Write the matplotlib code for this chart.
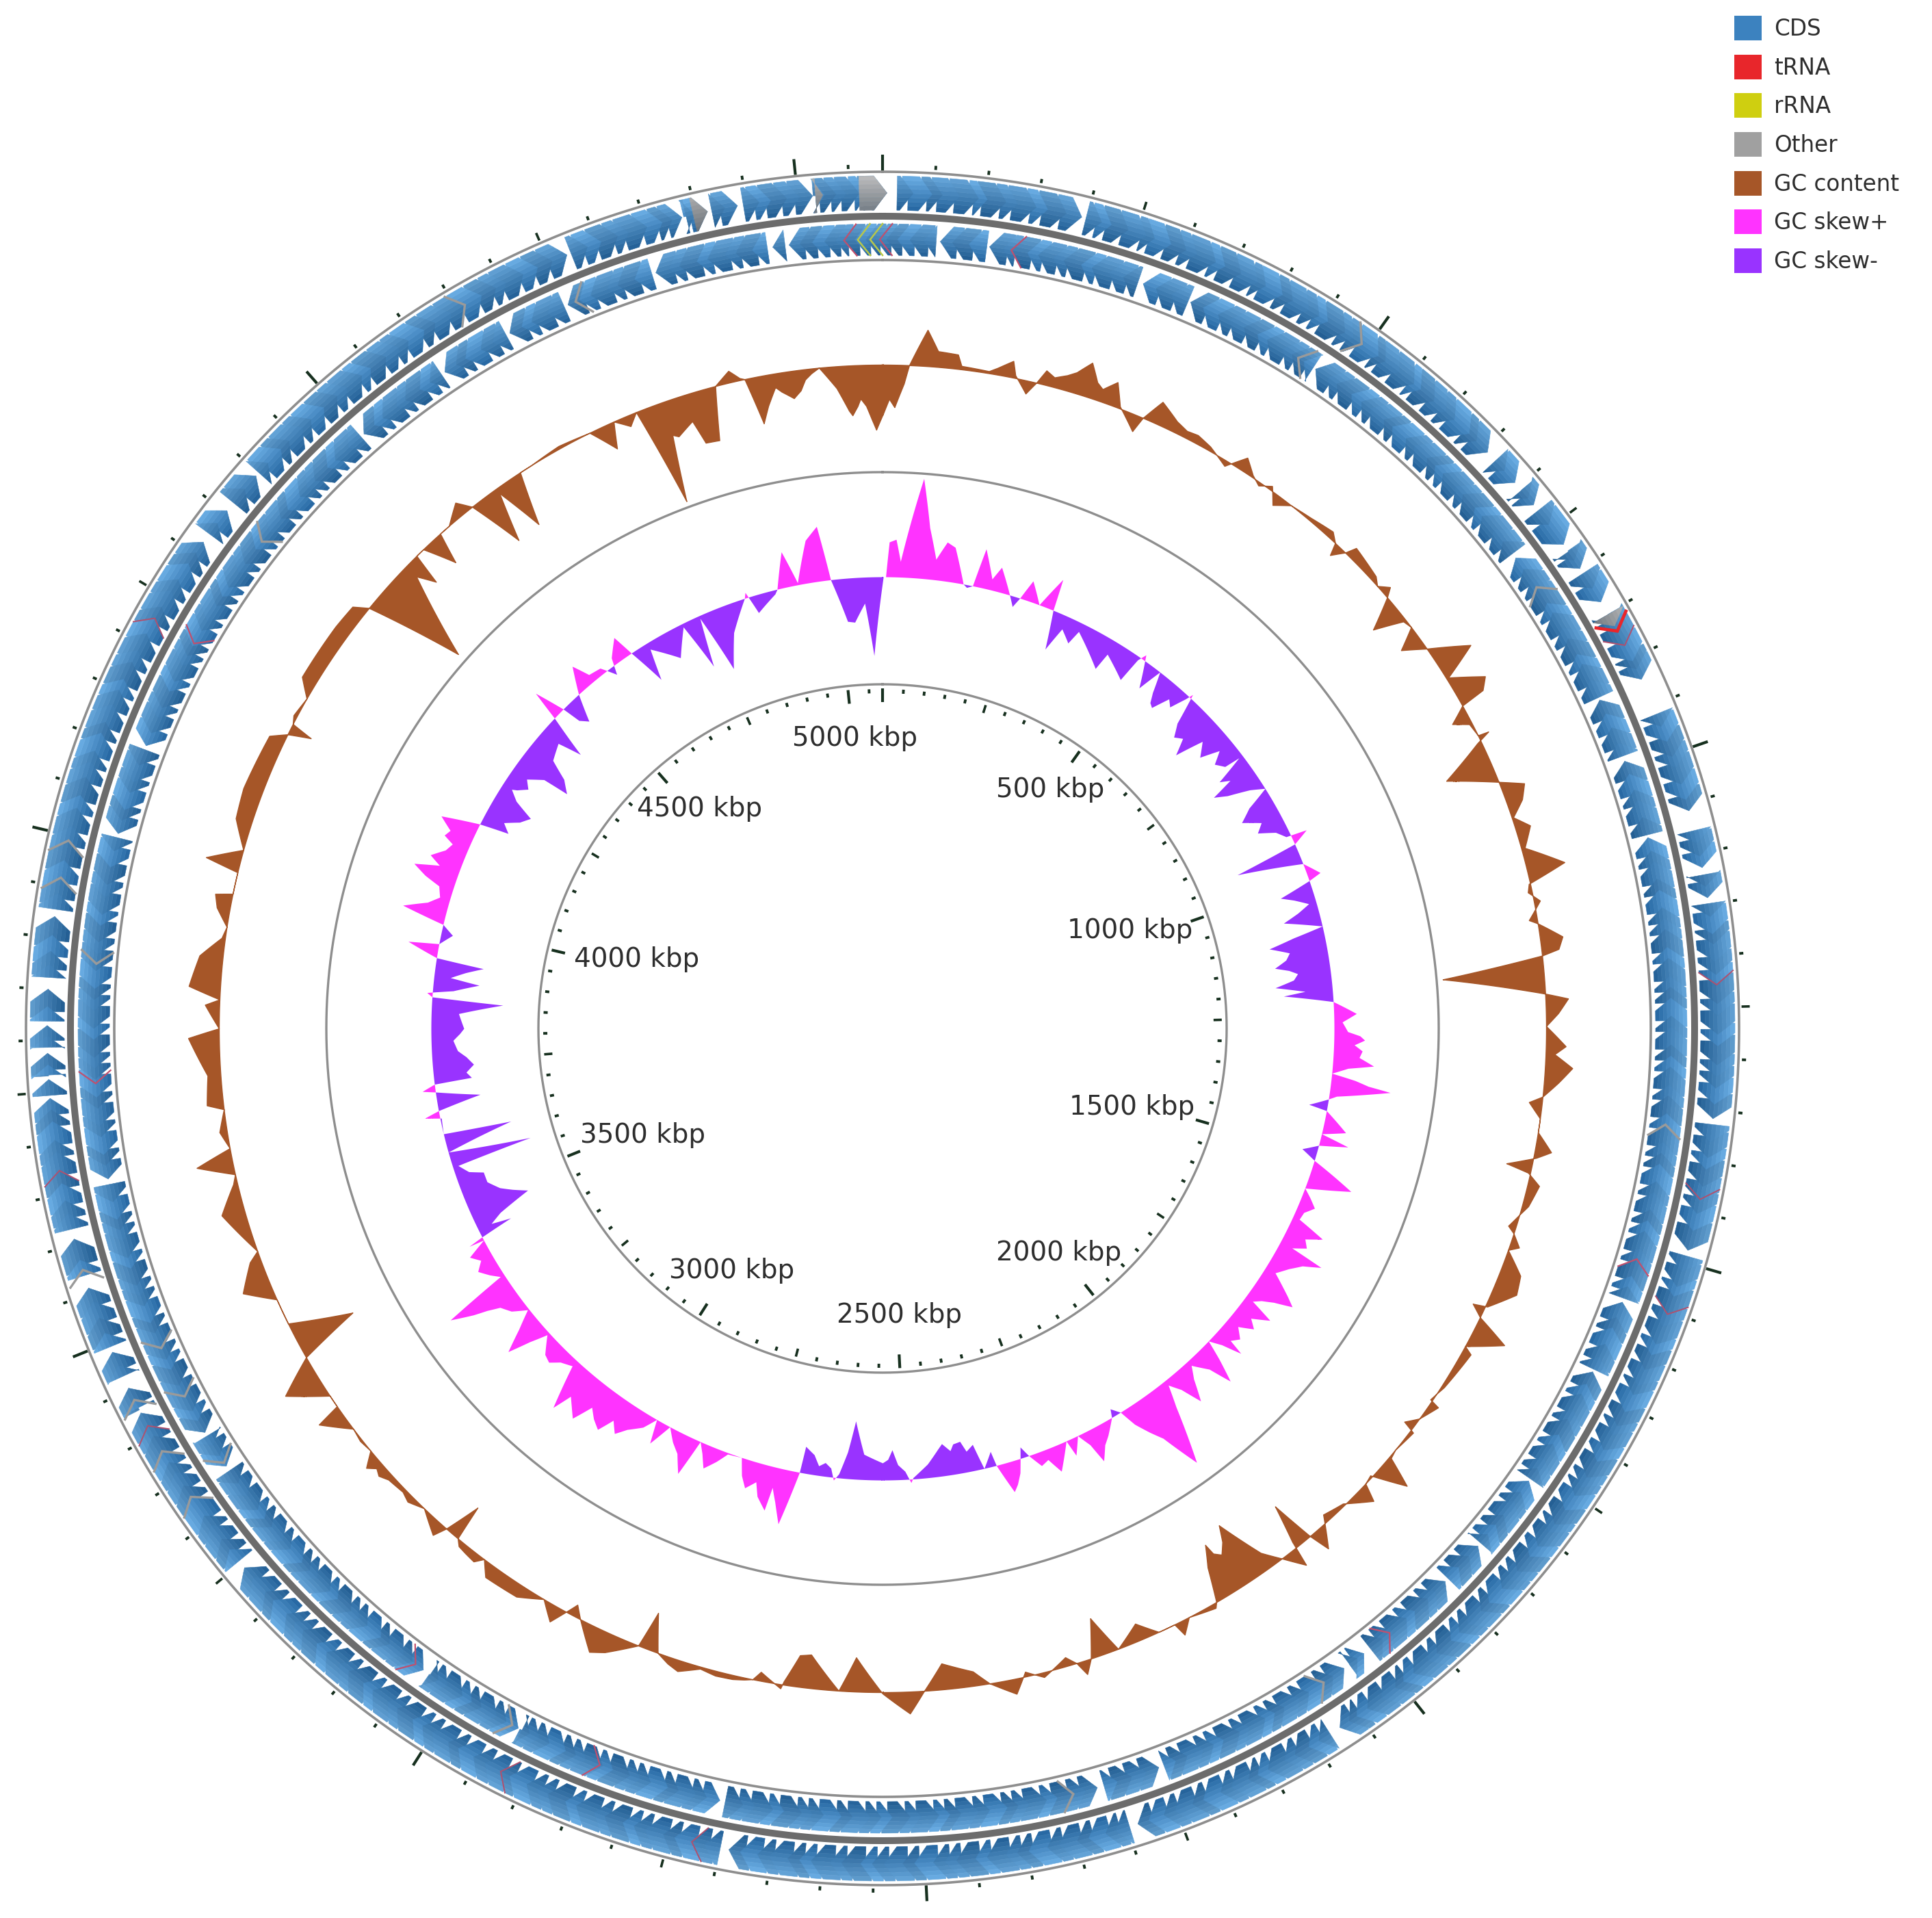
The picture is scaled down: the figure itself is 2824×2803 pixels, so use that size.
import numpy as np
import matplotlib
matplotlib.use("Agg")
import matplotlib.pyplot as plt
from matplotlib.collections import PolyCollection
from matplotlib.patches import Patch

genome_kbp = 5082.3
label_kbp = [500, 1000, 1500, 2000, 2500, 3000, 3500, 4000, 4500, 5000]

# GC content, ring angle in degrees clockwise from the top, deviation from baseline
gc_angle = [0.6, 1.1, 1.9, 2.3, 3.7, 4.7, 6.4, 6.8, 9.2, 9.9, 11.1, 11.5, 12.7, 13.4, 14.0, 15.8, 17.5, 18.4, 20, 20.9,
            22.7, 23.1, 24.1, 25.9, 29.4, 31.3, 32.6, 33.8, 34.7, 35.7, 36.7, 38, 42.2, 43, 43.4, 44.2, 44.6, 47.5, 48.2, 49,
            49.5, 50.9, 52, 52.8, 53.9, 55.1, 56.9, 58.2, 59.7, 60.6, 60.9, 61.9, 62.6, 63.8, 63.9, 64.4, 66.3, 68.2, 69.1, 70.3,
            71.5, 72.6, 74.3, 76.3, 77.4, 78.1, 79, 80.5, 80.9, 82.3, 83.3, 83.7, 85, 87, 87.5, 88.7, 89.8,
            91.5, 92.2, 93.3, 94.6, 95.9, 96.5, 97.2, 97.8, 99, 100.5, 101.2, 102.2, 102.6, 103.5, 105.4, 106.3, 107.5, 108, 109,
            109.5, 111.2, 112.8, 114.7, 115, 115.8, 117, 118.6, 119, 122.6, 123.4, 124.1, 124.3, 126, 127, 127.3, 129.4, 130.2, 131.1, 132.5,
            133.3, 133.9, 135.9, 137.8, 139.4, 139.9, 140.6, 141.4, 141.7, 143, 144.2, 145.9, 147.8, 148, 149.8, 150.1, 152.5, 153.5, 153.9, 155.4,
            157, 159.2, 160.6, 161.7, 162.4, 163, 163.8, 166, 167.5, 168.6, 170.7, 172, 174.7, 176.4, 177.7, 180,
            182.4, 183.8, 186.5, 187.5, 188.6, 188.8, 190.7, 191.3, 195.9, 197.7, 199.8, 201, 201.6, 205.2, 207.1, 207.9, 209.3, 210.7, 212.8, 215.9,
            216.9, 219.8, 220.2, 221.1, 221.6, 223.7, 225.1, 227.6, 229.6, 230.5, 232.9, 234.9, 235.3, 236.4, 238.4, 240.3, 241.8, 243.6, 245.9, 247.5,
            249.7, 250.4, 254.2, 256.5, 257.3, 258.5, 259.6, 261.1, 263, 263.5, 266, 269.2, 270, 272, 272.5, 273.5, 276.1, 277.8, 278.8, 280.3,
            281.4, 281.7, 283.6, 284.2, 285.6, 288, 290.6, 293.5, 295.5, 296.3, 296.9, 297.3, 298, 299.8, 301.2, 304.3, 306.3, 308.5, 309.3, 311.4,
            314.1, 315, 315.4, 316.2, 317.5, 318.2, 319.2, 320.9, 321.8, 323.3, 324.4, 325.7, 326.9, 328, 330.9, 333.8, 335.4, 336.1, 337.3, 338.2,
            339.6, 340.5, 342.6, 343.2, 344.5, 345.4, 346.8, 347.6, 348, 348.9, 350.5, 352, 353.8, 354.5, 355.9, 356.9, 357.2, 358, 359.4]
gc_value = [-50, -62, -27, 0, 53, 23, 21, 5, 3, 10, 24, 4, -19, 0, 21, 22, 50, 25, 35, 3,
            -24, 0, 33, 16, 6, -8, 20, 3, -5, 6, -16, 0, 10, 0, -18, 0, 16, 8, 0, 13,
            0, -46, -4, 0, -32, 0, 56, 3, 50, 37, 0, -26, -4, 0, 16, -6, -70, 0, 34, 23,
            2, 22, 5, 56, -2, -6, 9, -12, 0, 33, 25, 0, -148, 0, 33, 18, 0,
            29, 13, 40, 21, 0, -19, -9, 0, 0, 24, 4, -37, -3, 17, 9, 0, -11, 0, 14,
            0, 30, 35, 3, -18, 0, 50, 0, 13, 4, 0, -3, 13, 0, -15, 5, 0, 3, 47, -3,
            0, 26, -3, -11, 31, 0, -66, -10, 29, 0, -25, -93, -63, -80, 0, 7, 0, 20, 0, 0,
            -25, 0, -56, 0, 20, 0, -13, 7, -7, 22, 0, -21, -38, 0, 32, 2,
            -50, 0, -49, -46, -5, 6, -13, 0, 3, 16, 0, -55, 0, 37, 0, -17, 24, 0, 18, 20,
            0, 0, -53, 0, 20, 0, 10, 8, 21, 0, 0, 37, 0, 0, 55, 0, -91, 0, 0, 42,
            16, 0, 34, 6, 0, 53, 0, 11, 0, 24, 19, 45, 0, 21, 0, 46, 34, 5, 0, 19,
            25, 0, 0, 50, 0, 24, 28, 25, 23, 0, -33, 0, 5, 0, 22, 22, 22, 20, 0, -143,
            -21, -47, 0, 0, -46, 0, 0, 20, 0, -80, -8, -78, 0, 0, 4, 0, -38, 0, -16, 0,
            -148, -50, -40, -76, -78, 0, 17, 3, 0, -69, -20, -40, -7, 0, -32, -66, -73, -49, -95]

# smaller notches of the GC outline, read in a second pass
gc_fine_angle = [14.8, 16.5, 19, 27, 28, 40, 146.5, 147.2, 148.9, 192, 193, 194.5, 198.7, 204, 217.5, 218.5, 219.3, 226, 228.4, 229,
                 231.7, 341, 349.6, 351, 352.7, 353.2, 357.7, 358.5, 359, 0.1]
gc_fine_value = [14, 30, 18, 10, 12, 4, -70, -55, -50, 3, 6, 7, 10, 28, 12, 10, 8, 5, 15, 10,
                 3, -55, -45, -28, -30, -15, -60, -60, -80, -70]

# GC skew on the same ring angle
skew_angle = [0.1, 0.4, 0.8, 1.6, 2.2, 4.3, 5.4, 6.5, 7.6, 8.6, 10.3, 10.8, 11.5, 12.2, 13.7, 14.5, 16, 17.1, 17.7, 18.6,
              20.3, 21.9, 22.2, 23.2, 24.2, 25.7, 26.3, 30.6, 31, 34.3, 34.7, 35.2, 37, 37.9, 40, 42.6, 42.9, 47, 48.1, 52.6,
              52.8, 55.1, 57.9, 60.2, 64.6, 64.9, 65.9, 66.6, 68.6, 70.4, 70.9, 71.9, 73.7, 75.3, 76.9, 78.4, 81.3, 82.5, 84.1, 85.4, 86.6, 88.2, 89.2,
              91.4, 94.4, 94.9, 95.7, 97.2, 98.5, 99, 100.1, 100.5, 102.7, 103.5, 104.3, 105, 106, 107, 109.2, 110.7, 112.6, 114.6, 115.6, 118.2,
              118.6, 121.9, 124.2, 126.4, 127, 131.9, 132.2, 133.8, 135.4, 137.5, 139.5, 141.3, 144.1, 145.6, 147.5, 148.2, 149.1, 149.5, 152.9, 154.4,
              155.6, 156, 158, 161.1, 161.8, 164.1, 165.4, 165.7, 167, 167.8, 170.4, 171.9, 174.1, 176.1, 176.4, 177.1, 178.7, 180,
              182.5, 183.9, 184.7, 185.6, 186.2, 186.7, 189.1, 190.4, 190.6, 191.9, 193.5, 193.8, 195.6, 196.7, 198.2, 200, 202.2, 203.8, 204.7, 208.1,
              209.3, 210, 215.4, 218.5, 221, 222.6, 226, 227.6, 229.2, 231.6, 233.9, 236, 237, 239, 242.05, 242.2, 242.5, 243, 243.5, 245.5,
              247.4, 250.2, 250.9, 252.1, 252.8, 254.1, 256, 256.5, 258.5, 258.9, 259.5, 260.7, 261.9, 262.2, 262.9, 263.2, 266.1, 268.4, 270,
              273.5, 274, 274.5, 276.1, 276.7, 278.5, 279, 280.4, 280.8, 282.2, 283.3, 284.4, 287.8, 289.4, 291, 293.2, 293.8, 295.7, 296.9, 297.5,
              300.8, 303.1, 306.3, 306.6, 308, 309.1, 311.3, 312.2, 313.4, 314, 315, 315.4, 316.3, 317.7, 319.4, 320.3, 321.9, 323.1, 323.8, 325.5,
              326.2, 327.6, 328.5, 331.4, 333.6, 335, 336, 337.5, 339.4, 342.2, 342.5, 343.4, 346.1, 346.5, 348, 349.2, 351, 352.5, 353.4,
              355.1, 356.1, 357.6, 358.7]
skew_value = [0, 0, 51, 55, 23, 146, 75, 30, 57, 51, 0, -4, 0, 57, 16, 36, 7, -15, 0, 30,
              0, 47, 0, -57, -20, -35, -13, -49, -22, -43, -5, 8, -37, 0, -48, -6, 6, -74, -32, -30,
              -6, -70, 0, -55, -7, 24, 0, -95, 0, 19, 0, -48, -11, -54, 0, -83, -80, -48, -83, -72, 0, 33, 12,
              45, 60, 23, 0, 88, 11, 0, -27, 0, 34, 0, 42, 0, -22, 0, 65, 0, 24, 10, 53, 19,
              70, 16, 64, 12, 49, 23, 47, 0, 64, 8, 56, 8, 123, 66, 26, 0, -12, 0, 50, 0,
              25, 0, 38, 0, -16, 44, 0, -22, 0, -38, -44, -47, -20, -2, 5, -12, -44, -25,
              -37, -85, -39, -6, 4, -13, -29, -39, 0, 80, 30, 65, 28, 41, 0, 2, 34, 0, 56, 0,
              35, 0, 59, 68, 74, 10, 26, 4, 63, 2, 32, 102, 6, 30, 0, 23, 0, -50, -21, -90,
              -54, -40, -20, -8, -121, 0, -100, 0, -2, 22, 0, -64, 0, 19, 0, -55, -50, -32, -48,
              -104, 0, 8, -67, -24, -70, 0, 45, 0, -17, 0, 64, 21, 66, 48, 24, 40, 56, 0, -43,
              -61, -22, -46, -85, -69, -39, -29, -64, 0, 45, 0, -28, -39, 0, 37, 12, 9, -13, 11, 33,
              0, -56, -10, -43, -5, -76, -4, -91, -42, 0, 8, -26, -6, 0, 52, 3, 62, 80, 0,
              -63, -65, -38, -115]

skew_fine_angle = [38.8, 39.4, 41, 41.8, 44, 45, 46, 49.5, 50.5, 51.5, 53.8, 54.5, 56, 57, 59, 61.5, 62.5, 63.5,
                   72.7, 74.5, 77.6, 79.5, 80.4, 81.9, 83.3, 85, 90.4, 90.9, 92, 92.7, 93.5, 96.3, 96.8,
                   111.6, 113.6, 116.5, 117.4, 119.5, 120.6, 122.8, 123.5, 125, 125.7, 128.2, 129, 130, 131, 133, 134.5, 136.2,
                   138.4, 140.4, 142.2, 143, 146.5, 151, 151.9, 153.5, 159, 160, 162.8, 163.5,
                   168.8, 169.4, 170.9, 172.5, 173.3, 175, 178, 179.3, 187.5, 188.3, 192.8, 195, 197.5, 201, 203, 205.8, 206.9,
                   211, 212.5, 213.5, 214.5, 216.5, 217.5, 219.5, 220.3, 224, 225, 228.4, 230.4, 232.7, 234.5, 235, 237.9, 240, 241,
                   244.3, 246.5, 248.8, 264, 265, 267, 269.3, 272, 275, 277.6, 285.5, 286.5, 288.5, 290.2, 292.2, 294.6,
                   298.5, 299.6, 301.8, 302.8, 304, 305]
skew_fine_value = [-30, -44, -22, -30, -40, -58, -50, -50, -22, -40, -50, -36, -52, -20, -35, -30, -42, -18,
                   -30, -30, -45, -55, -62, -60, -55, -40, 20, 38, 30, 42, 38, 35, 55,
                   12, 12, 30, 38, 45, 30, 35, 50, 38, 22, 25, 38, 18, 32, 18, 30, 30,
                   25, 25, 40, 75, 48, 20, 30, 20, 15, 20, 20, 35,
                   -30, -46, -35, -40, -30, -12, -22, -30, -20, -14, 50, 48, 25, 18, 15, 30, 18,
                   20, 35, 50, 35, 50, 38, 55, 45, 18, 30, 30, 30, 22, 50, 70, 18, 18, 30,
                   -40, -70, -40, -48, -60, -38, -42, -40, -30, -45, 30, 15, 45, 30, 30, 35,
                   -30, -50, -30, -15, -35, -25]

# CDS blocks and the gene boundaries inside them, outer ring
plus_start = [1.0, 14.1, 47.2, 49.9, 51.7, 55.2, 57, 60.3, 67.9, 76.3, 79.4, 81.4, 96.6, 105.8, 147.6, 162.8, 191.2, 230.4,
              243, 245.4, 247.6, 252.8, 256.1, 265.4, 266.8, 268.7, 270.5, 273.5, 278.2, 306.3, 309, 311.7, 338.1, 346.4, 348.2, 350.4, 355.4]
plus_end = [13.8, 46.4, 49.2, 51.2, 54.6, 56.6, 59.3, 65.3, 74.9, 78.9, 81, 96.2, 105.4, 146.8, 162.2, 190.6, 229.8, 242.6,
            244.5, 247.2, 251.9, 255.4, 265.2, 266.5, 268.3, 270.2, 272.7, 277.7, 305.6, 308.3, 311.4, 337.8, 346.1, 347.9, 350, 355.2, 360.3]
plus_bounds = [2.1, 3.4, 4.1, 5.3, 6.6, 7.2, 8.5, 9.3, 10.6, 11.4, 12.7, 15.2, 15.9, 17.1, 18.4, 19, 20.2, 21.3, 22.1, 23.5, 24.2, 25.4,
               26.7, 27.3, 28.6, 29.4, 30.7, 31.5, 32.2, 33.6, 34.3, 35.1, 36.4, 37, 38.2, 39.5, 40.1, 41.3, 42.4, 43.2, 44.6, 45.3, 48.1, 50.6,
               52.9, 55.9, 58.2, 61, 61.6, 62.7, 63.9, 64.5, 68.8, 69.9, 71, 71.8, 73, 74.1, 77.2, 78.1, 80.2, 82.3, 83.5, 84.2, 85.4, 86.3, 87,
               88.3, 89.1, 90.4, 91.2, 92.5, 93.3, 94.1, 95.2, 97.8, 98.9, 99.7, 100.9, 102, 102.8, 104, 106.9, 108, 108.7, 110, 110.9, 112.2, 113,
               114.1, 115.3, 116, 117.3, 118.4, 119.1, 120.3, 121.2, 122.5, 123.3, 124, 125.2, 126.4, 127.1, 128.3, 129.2, 130.5, 131.3, 132.1,
               133.4, 134.2, 135.5, 136.3, 137.1, 138.4, 139.2, 140.5, 141.4, 142.1, 143.3, 144.5, 145.4, 146, 148.5, 149.3, 150.4, 151.2, 152.5,
               153.3, 154, 155.3, 156.1, 157.4, 158.2, 159.5, 160.3, 161.4, 163.8, 164.5, 165.7, 166.5, 167.8, 168.6, 169.9, 170.7, 171.5, 172.8,
               173.6, 174.9, 175.7, 176.5, 177.8, 178.6, 179.9, 180.7, 181.5, 182.8, 183.6, 184.9, 185.7, 186.5, 187.8, 188.6, 189.8, 192.3, 193.2,
               194.4, 195.2, 196.5, 197.3, 198.1, 199.4, 200.2, 201.5, 202.3, 203.6, 204.4, 205.2, 206.5, 207.2, 208.4, 209.3, 210.5, 211.3, 212.6,
               213.4, 214.2, 215.5, 216.3, 217.6, 218.4, 219.7, 220.5, 221.7, 222.6, 223.9, 224.7, 225.5, 226.8, 227.6, 228.9, 231.4, 232.3, 233.5,
               234.3, 235.9, 236.8, 237.9, 238.7, 239.6, 240.8, 241.6, 243.6, 246.2, 248.6, 249.7, 250.9, 253.9, 257.2, 258.1, 259.3, 260.2, 261.5,
               262.3, 263.6, 264.4, 267.5, 269.5, 271.5, 274.4, 275.3, 276.4, 279.3, 280.4, 281.6, 283, 284, 285.3, 286.2, 287.5, 288.6, 289.4,
               290.7, 291.5, 292.8, 293.9, 294.7, 296, 296.9, 298.2, 299.4, 300.3, 301.6, 302.5, 303.8, 304.7, 307.2, 310.2, 312.6, 313.9, 314.7,
               316, 316.8, 318, 319.2, 320.1, 321.4, 322.2, 323.5, 324.6, 325.4, 326.7, 327.6, 328.9, 330, 331.3, 332.4, 333.2, 334.5, 335.6, 336.7,
               339.3, 340.3, 341.5, 342.3, 343.6, 344.7, 345.4, 347, 349.1, 351.5, 352.3, 353.4, 354.3, 356, 356.8, 357.5, 358.4, 359, 359.6]

# same for the inner ring, arrows point the other way
minus_start = [4.2, 7.8, 19.3, 23, 33.3, 53.4, 65.4, 70.2, 76, 110.3, 115.8, 125, 131, 134.5, 142.4, 144.2, 159.5, 164.2, 191.9,
               207.5, 215.6, 236.3, 239.2, 259, 284.3, 291, 318.9, 326.3, 331.8, 336.5, 343.3, 352, 353.2]
minus_end = [7.6, 18.9, 22.8, 33.1, 53, 65.2, 69.8, 75.8, 110, 115.6, 124.8, 130.7, 134.2, 141.8, 143.7, 159.1, 163.7, 191.5, 207.2,
             215, 235.9, 238.9, 258.6, 284, 290.7, 318.6, 326, 331.5, 336.2, 343, 351.6, 352.9, 363.9]
minus_bounds = [5.1, 6.3, 8.8, 9.4, 10.6, 11.4, 12.5, 13.3, 14.6, 15.4, 16.7, 17.8, 20.3, 21.5, 24, 25.2, 26.1, 27.3, 28.4, 29.2, 30.5, 31.3, 32.3,
                34.4, 35.2, 36.5, 37.4, 38.2, 39.5, 40.3, 41.6, 42.4, 43.7, 44.5, 45.3, 46.6, 47.4, 48.7, 49.5, 50.8, 51.9, 54.4, 55.3, 56.1, 57.4,
                58.2, 59.5, 60.4, 61.7, 62.5, 63.8, 66.5, 67.6, 68.8, 71.2, 72.4, 73.2, 74.5, 77, 77.8, 79.1, 79.9, 81.2, 82, 82.8, 84.1, 84.9, 86.2,
                87, 87.8, 89.1, 89.9, 91.2, 92, 92.8, 94.1, 94.9, 96.2, 97, 98.3, 99.1, 99.9, 101.2, 102, 103.3, 104.1, 104.9, 106.2, 107, 108.3, 109.1,
                111.5, 112.3, 113.6, 114.6, 116.8, 117.6, 118.9, 119.7, 121, 121.8, 123, 123.9, 126, 126.8, 128.1, 129, 129.9, 132, 133.1, 135.5, 136.3,
                137.6, 138.4, 139.7, 140.7, 143, 145.2, 146, 147.3, 148.1, 149.4, 150.2, 151, 152.3, 153.1, 154.4, 155.2, 156, 157.3, 158.2, 160.5, 161.6,
                162.7, 165.1, 166, 167.2, 168, 169.3, 170.1, 170.9, 172.2, 173, 174.3, 175.1, 175.9, 177.2, 178, 179.3, 180.1, 180.9, 182.2, 183, 184.3,
                185.1, 185.9, 187.2, 188, 189.3, 190.2, 192.9, 193.7, 195, 195.8, 197.1, 197.9, 198.7, 200, 200.8, 202.1, 202.9, 203.7, 205, 205.8, 206.6,
                208.5, 209.3, 210.6, 211.4, 212.2, 213.5, 214.3, 216.6, 217.4, 218.7, 219.5, 220.8, 221.6, 222.4, 223.7, 224.5, 225.8, 226.6, 227.4, 228.7,
                229.5, 230.8, 231.6, 232.4, 233.7, 234.8, 237.2, 238.1, 240.2, 241, 242.3, 243.1, 244.4, 245.2, 246, 247.3, 248.1, 249.4, 250.2, 251, 252.3,
                253.1, 254.4, 255.2, 256, 257.3, 260, 260.8, 262.1, 262.9, 264.2, 265, 266.3, 267.1, 267.9, 269.2, 270, 271.3, 272.1, 272.9, 274.2, 275.4,
                276.3, 277.5, 278.3, 279.6, 280.5, 281.8, 283, 285.3, 286.1, 287.4, 288.2, 289.5, 292, 293.2, 294, 295.3, 296.1, 297.4, 298.2, 299, 300.3,
                301.1, 302.4, 303.2, 304, 305.3, 306.1, 307.4, 308.2, 309, 310.3, 311.1, 312.4, 313.2, 314, 315.3, 316.1, 317.4, 319.9, 320.7, 322, 322.8,
                324.1, 325, 327.3, 328.1, 329.4, 330.4, 332.8, 333.6, 334.9, 337.4, 338.3, 339.6, 340.4, 341.7, 344.3, 345.1, 346.4, 347.2, 348.5, 349.3,
                350.5, 354, 354.9, 355.8, 356.6, 357.2, 358, 358.8, 359.5, 360.3, 361.1, 362, 363]

# solid grey genes and thin coloured genes
plus_other_start = [60.3, 346.9, 358.4, 355.4]
plus_other_end = [61.2, 347.9, 360.3, 355.9]
plus_other_tips = [35, 235.9, 239.6, 243.6, 253.2, 280.4, 283, 330]
plus_trna_tips = [61.6, 62.7, 87, 101.8, 110, 207.2, 193.2, 241.6, 260.2, 299.4]
minus_other_tips = [31.8, 56, 97, 146, 166, 208, 236.6, 242.2, 246.1, 274.7, 308.1, 337.1]
minus_trna_tips = [357.2, 359.8, 9.4, 107, 140, 201, 216.3, 266, 299.2]
minus_rrna_tips = [358.2, 359.1]

# geometry in image pixels
WIDTH, HEIGHT = 2824, 2803
CX, CY = 1290, 1503
R_MAX = 1290
R_OUTER = 1252
R_PLUS = (1196, 1246)
R_MID = 1187
R_MINUS = (1130, 1176)
R_INNER = 1123
R_GC = 970
R_CIRCLE = 813
R_SKEW = 660
R_TICKS = 503
HEAD = 0.9

CDS_LIGHT = np.array([0x66, 0xa6, 0xda]) / 255
CDS_DARK = np.array([0x22, 0x60, 0x98]) / 255
GREY_LIGHT = np.array([0xb4, 0xb4, 0xb4]) / 255
GREY_DARK = np.array([0x70, 0x78, 0x80]) / 255
FACETS = [1.0, 0.95, 1.05, 0.98]
TICK_COLOR = "#17301f"
LINE_COLOR = "#8e8e8e"
TEXT_COLOR = "#2e2e2e"
GC_COLOR = "#a65628"
SKEW_POS = "#ff33ff"
SKEW_NEG = "#9933ff"

plt.rcParams["font.family"] = ["DejaVu Sans"]

fig = plt.figure(figsize=(WIDTH / 100, HEIGHT / 100), dpi=100)
ax = fig.add_axes([(CX - R_MAX) / WIDTH, (HEIGHT - CY - R_MAX) / HEIGHT, 2 * R_MAX / WIDTH, 2 * R_MAX / HEIGHT],
                  projection="polar")
ax.set_theta_zero_location("N")
ax.set_theta_direction(-1)
ax.set_rlim(0, R_MAX)
ax.axis("off")

circle = np.radians(np.linspace(0, 360, 1441))
for r, lw in [(R_OUTER, 2.6), (R_INNER, 2.6), (R_CIRCLE, 2.4), (R_TICKS, 2.4)]:
    ax.plot(circle, np.full_like(circle, r), color=LINE_COLOR, lw=lw, zorder=2)
ax.plot(circle, np.full_like(circle, R_MID), color="#6c6c6c", lw=7.2, zorder=2)


def split_blocks(starts, ends, bounds):
    # each gene is (start, end, has neighbour before, has neighbour after)
    genes = []
    bounds = np.array(bounds)
    for s, e in zip(starts, ends):
        inside = bounds[(bounds > s) & (bounds < e)]
        edges = [s] + list(inside) + [e]
        n = len(edges) - 1
        for i in range(n):
            genes.append((edges[i], edges[i + 1], i > 0, i < n - 1))
    return genes


def arrow_bands(genes, r_range, clockwise, light, dark, bands=8):
    r0, r1 = r_range
    rmid = (r0 + r1) / 2
    half = (r1 - r0) / 2
    verts, colors = [], []
    levels = np.linspace(r0, r1, bands + 1)
    for i, (s, e, before, after) in enumerate(genes):
        head = min(HEAD, (e - s) * 1.4)
        shade = FACETS[i % len(FACETS)]
        for lo, hi in zip(levels[:-1], levels[1:]):
            t_lo, t_hi = abs(lo - rmid) / half, abs(hi - rmid) / half
            # tails slide under the neighbour's head, leaving shallow notches
            k = 0.85 if lo >= rmid else 0.38
            if clockwise:
                tail = s - head * k if before else s
                poly = [(tail, lo), (e - head * t_lo, lo), (e - head * t_hi, hi), (tail, hi)]
            else:
                tail = e + head * k if after else e
                poly = [(tail, lo), (s + head * t_lo, lo), (s + head * t_hi, hi), (tail, hi)]
            verts.append([(np.radians(a), r) for a, r in poly])
            f = ((lo + hi) / 2 - r0) / (r1 - r0)
            colors.append(np.clip((dark + (light - dark) * f) * shade, 0, 1))
    coll = PolyCollection(verts, facecolors=colors, edgecolors=colors, linewidths=0.4,
                          transform=ax.transData, zorder=3)
    ax.add_collection(coll, autolim=False)


arrow_bands(split_blocks(plus_start, plus_end, plus_bounds)[::-1], R_PLUS, True, CDS_LIGHT, CDS_DARK)
arrow_bands(split_blocks(minus_start, minus_end, minus_bounds), R_MINUS, False, CDS_LIGHT, CDS_DARK)
arrow_bands([(s, e, False, False) for s, e in zip(plus_other_start, plus_other_end)], R_PLUS, True, GREY_LIGHT, GREY_DARK)


def chevrons(tips, r_range, clockwise, color, lw):
    r0, r1 = r_range
    rmid = (r0 + r1) / 2
    sign = -1 if clockwise else 1
    for a in tips:
        th = np.radians([a + sign * HEAD, a, a + sign * HEAD])
        ax.plot(th, [r0, rmid, r1], color=color, lw=lw, zorder=4, solid_joinstyle="miter")


chevrons(plus_other_tips, R_PLUS, True, "#9a9a9a", 2.4)
chevrons(minus_other_tips, R_MINUS, False, "#9a9a9a", 2.4)
chevrons(plus_trna_tips[:1], R_PLUS, True, "#e8262b", 3.4)
chevrons(plus_trna_tips[1:], R_PLUS, True, "#b0506e", 1.4)
chevrons(minus_trna_tips, R_MINUS, False, "#c0506e", 1.6)
chevrons(minus_rrna_tips, R_MINUS, False, "#b9c84a", 1.8)

# filled profiles, resampled on a fine angle grid so the baseline stays round
grid = np.linspace(0, 360, 14401)
theta = np.radians(grid)
gc_curve = np.interp(grid, gc_angle + gc_fine_angle, gc_value + gc_fine_value, period=360)
ax.fill_between(theta, R_GC, R_GC + gc_curve, facecolor=GC_COLOR, edgecolor=GC_COLOR, lw=1.0, zorder=3)

skew_curve = np.interp(grid, skew_angle + skew_fine_angle, skew_value + skew_fine_value, period=360)
ax.fill_between(theta, R_SKEW, R_SKEW + np.maximum(skew_curve, 0), color=SKEW_POS, lw=0, zorder=3)
ax.fill_between(theta, R_SKEW, R_SKEW + np.minimum(skew_curve, 0), color=SKEW_NEG, lw=0, zorder=3)

# ticks every 50 kbp, outside the outer ring and inside the inner one
for kbp in np.arange(0, genome_kbp, 50):
    th = np.radians(kbp / genome_kbp * 360)
    if kbp % 500 == 0:
        out_r, in_r, lw = (1254, 1277), (477, 497), 3.0
    elif kbp % 250 == 0:
        out_r, in_r, lw = (1256, 1268), (484, 496), 2.6
    else:
        out_r, in_r, lw = (1257, 1263), (490, 496), 2.8
    ax.plot([th, th], out_r, color=TICK_COLOR, lw=lw, zorder=2, solid_capstyle="butt")
    ax.plot([th, th], in_r, color=TICK_COLOR, lw=lw, zorder=2, solid_capstyle="butt")

label_angle = [35.1, 68.4, 107.5, 141.9, 176.6, 211.9, 246, 285.7, 320.2, 354.6]
label_radius = [426, 389, 382, 417, 420, 417, 384, 373, 418, 426]
for kbp, a, r in zip(label_kbp, label_angle, label_radius):
    ax.text(np.radians(a), r, f"{kbp} kbp", ha="center", va="center", fontsize=28, color=TEXT_COLOR)

legend_names = ["CDS", "tRNA", "rRNA", "Other", "GC content", "GC skew+", "GC skew-"]
legend_colors = ["#3c82bf", "#e8262b", "#cfcf10", "#a0a0a0", GC_COLOR, SKEW_POS, SKEW_NEG]
handles = [Patch(facecolor=c, edgecolor="none") for c in legend_colors]
fig.legend(handles, legend_names, loc="upper left", bbox_to_anchor=(2535 / WIDTH, 1 - 23 / HEIGHT), borderaxespad=0,
           borderpad=0, frameon=False, fontsize=23.5, handlelength=1.22, handleheight=1.32, handletextpad=0.55,
           labelspacing=0.634, labelcolor=TEXT_COLOR)

fig.savefig("out.png", dpi=100)
